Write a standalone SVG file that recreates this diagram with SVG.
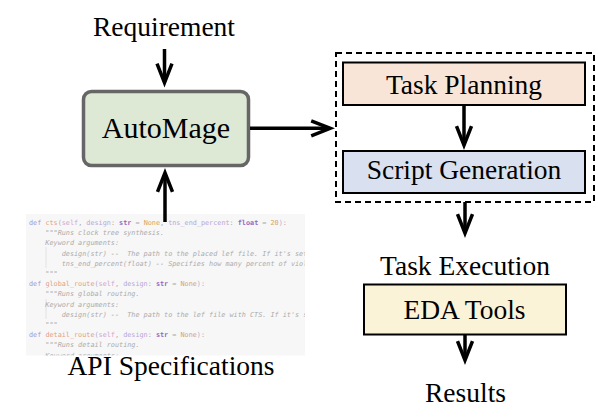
<svg xmlns="http://www.w3.org/2000/svg" width="598" height="420" viewBox="0 0 598 420">
<style>
.lbl{font-family:"Liberation Serif","Times New Roman",serif;font-size:27.5px;fill:#000;text-anchor:middle}
.box{stroke:#000;stroke-width:2}
.arr{stroke:#000;stroke-width:3.5;fill:none;marker-end:url(#ah)}
.code{font-family:"DejaVu Sans Mono","Liberation Mono",monospace;font-size:6.8px;fill:#a8a8a8}
.kw{fill:#a299d4}.fn{fill:#e29f84}.pa{fill:#9eacd0}.sf{fill:#d1a4cd}.ar{fill:#b8a6d8}
.ty{fill:#9468c2;font-weight:bold}.nu{fill:#d6a266}.doc{fill:#ababab;font-style:italic}
</style>
<defs>
<marker id="ah" viewBox="-20 -12 34 24" refX="0" refY="0" markerWidth="34" markerHeight="24" markerUnits="userSpaceOnUse" orient="auto">
<path d="M-15,-7.5 L4,0 L-15,7.5" fill="none" stroke="#000" stroke-width="3.5" stroke-linejoin="miter" stroke-miterlimit="10"/>
</marker>
<clipPath id="cc"><rect x="26" y="214" width="279" height="141.5"/></clipPath>
</defs>

<g id="api-code" clip-path="url(#cc)">
<rect x="26" y="214" width="279" height="142" fill="#f7f7f7"/>
<line x1="46" y1="247" x2="46" y2="268" stroke="#e2e2e2" stroke-width="1"/>
<line x1="46" y1="299" x2="46" y2="319" stroke="#e2e2e2" stroke-width="1"/>
<text class="code" xml:space="preserve">
<tspan x="29" y="225"><tspan class="kw">def</tspan> <tspan class="fn">cts</tspan><tspan class="pa">(</tspan><tspan class="sf">self</tspan>, <tspan class="ar">design</tspan>: <tspan class="ty">str</tspan> = <tspan class="nu">None</tspan>, <tspan class="ar">tns_end_percent</tspan>: <tspan class="ty">float</tspan> = <tspan class="nu">20</tspan><tspan class="pa">)</tspan>:</tspan>
<tspan x="29" y="235.2">    """<tspan class="doc">Runs clock tree synthesis.</tspan></tspan>
<tspan x="29" y="245.4" class="doc">    Keyword arguments:</tspan>
<tspan x="29" y="255.6" class="doc">        design(str) --  The path to the placed lef file. If it's set to None</tspan>
<tspan x="29" y="265.8" class="doc">        tns_end_percent(float) -- Specifies how many percent of violating</tspan>
<tspan x="29" y="276">    """</tspan>
<tspan x="29" y="286.2"><tspan class="kw">def</tspan> <tspan class="fn">global_route</tspan><tspan class="pa">(</tspan><tspan class="sf">self</tspan>, <tspan class="ar">design</tspan>: <tspan class="ty">str</tspan> = <tspan class="nu">None</tspan><tspan class="pa">)</tspan>:</tspan>
<tspan x="29" y="296.4">    """<tspan class="doc">Runs global routing.</tspan></tspan>
<tspan x="29" y="306.6" class="doc">    Keyword arguments:</tspan>
<tspan x="29" y="316.8" class="doc">        design(str) --  The path to the lef file with CTS. If it's set to None</tspan>
<tspan x="29" y="327">    """</tspan>
<tspan x="29" y="337.2"><tspan class="kw">def</tspan> <tspan class="fn">detail_route</tspan><tspan class="pa">(</tspan><tspan class="sf">self</tspan>, <tspan class="ar">design</tspan>: <tspan class="ty">str</tspan> = <tspan class="nu">None</tspan><tspan class="pa">)</tspan>:</tspan>
<tspan x="29" y="347.4">    """<tspan class="doc">Runs detail routing.</tspan></tspan>
<tspan x="29" y="357.6" class="doc">    Keyword arguments:</tspan>
</text>
</g>

<g id="requirement"><text class="lbl" x="164" y="36">Requirement</text></g>
<g id="api-specifications"><text class="lbl" x="171" y="375">API Specifications</text></g>

<g id="automage">
<rect x="83.5" y="91.5" width="165" height="74" rx="8" fill="#dde8d5" stroke="#666" stroke-width="3.5"/>
<text class="lbl" x="166" y="137.5" style="font-size:30px">AutoMage</text>
</g>

<g id="agent-group">
<rect x="336" y="53" width="258" height="149" fill="none" stroke="#000" stroke-width="2" stroke-dasharray="6,4"/>
</g>

<g id="task-planning">
<rect class="box" x="343" y="62.5" width="242" height="42.5" fill="#f9e5d8"/>
<text class="lbl" x="464" y="93.5">Task Planning</text>
</g>

<g id="script-generation">
<rect class="box" x="343" y="151" width="242" height="42" fill="#d9e0ef"/>
<text class="lbl" x="464" y="179">Script Generation</text>
</g>

<g id="task-execution"><text class="lbl" x="465" y="275">Task Execution</text></g>

<g id="eda-tools">
<rect class="box" x="364" y="284.5" width="202" height="50" fill="#faf3d8"/>
<text class="lbl" x="464.5" y="318.5">EDA Tools</text>
</g>

<g id="results"><text class="lbl" x="465.5" y="401.5">Results</text></g>

<g id="connectors">
<line class="arr" x1="164.5" y1="49" x2="164.5" y2="78.7"/>
<line class="arr" x1="165" y1="222" x2="165" y2="176.8"/>
<line class="arr" x1="250" y1="128.3" x2="326.2" y2="128.3"/>
<line class="arr" x1="464" y1="105" x2="464" y2="141.2"/>
<line class="arr" x1="465" y1="202" x2="465" y2="229.2"/>
<line class="arr" x1="465" y1="334.5" x2="465" y2="356.2"/>
</g>
</svg>
